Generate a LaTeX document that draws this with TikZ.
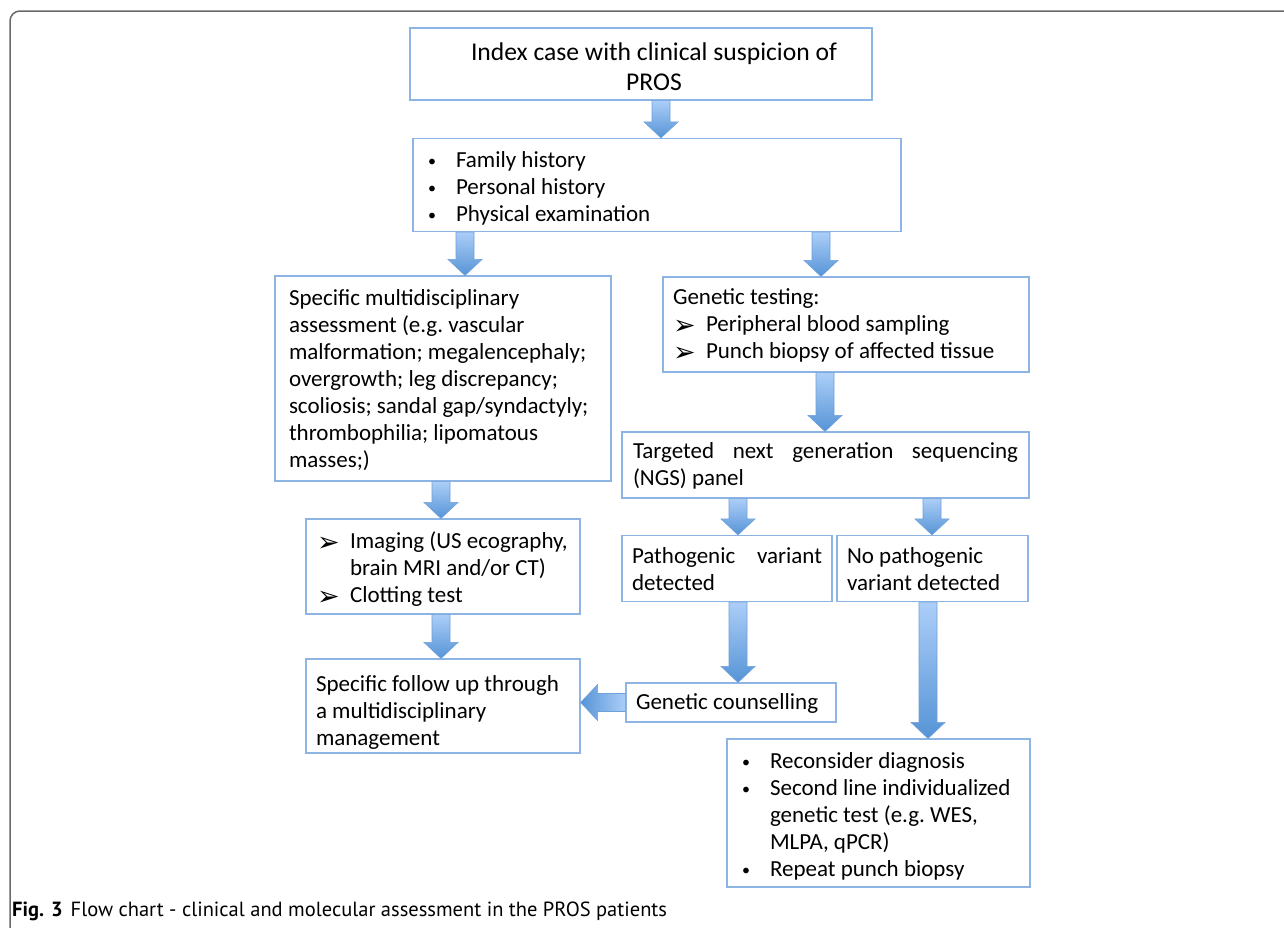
\documentclass[tikz,border=0pt]{standalone}
\usepackage{fontspec}
\setmainfont{Carlito}
\newfontfamily\dejavu{DejaVu Sans}
\newfontfamily\capfont{PT Sans}
\usetikzlibrary{calc}
\definecolor{boxline}{RGB}{141,180,226}
\definecolor{arrtop}{RGB}{172,206,248}
\definecolor{arrbot}{RGB}{86,148,214}
\definecolor{arredge}{RGB}{112,160,218}
\definecolor{framegray}{RGB}{105,105,105}
\newcommand\tri{\makebox[33pt][l]{\dejavu\fontsize{27}{27}\selectfont\raisebox{-2.5pt}{➢}}}
\newcommand\bul{\makebox[28pt][l]{\fontsize{16}{27}\selectfont\raisebox{1pt}{•}}}
\newcommand\pshift[1]{\par\vspace*{-#1}}
\newcommand\varr[3]{\path[arr] let \p1=(#2.south), \p2=(#3.north) in
  (#1pt-9pt,\y1) -- (#1pt+9pt,\y1) -- (#1pt+9pt,\y2+16pt) -- (#1pt+17pt,\y2+16pt)
  -- (#1pt,\y2) -- (#1pt-17pt,\y2+16pt) -- (#1pt-9pt,\y2+16pt) -- cycle;}
\begin{document}
\begin{tikzpicture}[x=1pt,y=-1pt,
  box/.style={draw=boxline, line width=1.2pt, fill=white, rectangle, align=flush left,
    inner ysep=0pt, font=\fontsize{23}{27}\selectfont\frenchspacing},
  tdown/.style={execute at end node={\pshift{#1}}},
  arr/.style={draw=arredge, line width=0.6pt, top color=arrtop, bottom color=arrbot},
  harrow/.style={draw=arredge, line width=0.6pt, left color=arrbot, right color=arrtop}]
\useasboundingbox (0,0) rectangle (1284,927);
\fill[white] (0,0) rectangle (1284,927);
\draw[framegray, line width=1.5pt, rounded corners=10pt] (10,935) -- (10,11) -- (1295,11);

\node[box, tdown=6pt, minimum width=462pt, minimum height=72pt, text width=434pt, inner xsep=14pt,
  align=flush center, font=\fontsize{25.6}{30}\selectfont] (b1) at (641,64)
  {\hspace*{26pt}Index case with clinical suspicion of\\\hspace*{26pt}PROS};
\node[box, tdown=6pt, minimum width=488pt, minimum height=93pt, text width=458pt, inner xsep=15pt] (b2) at (657,185)
  {\bul Family history\\\bul Personal history\\\bul Physical examination};
\node[box, tdown=4pt, minimum width=336pt, minimum height=205pt, text width=308pt, inner xsep=14pt] (b3) at (443,378.5)
  {\mbox{Specific multidisciplinary}\\\mbox{assessment (e.g. vascular}\\\mbox{malformation; megalencephaly;}\\
   \mbox{overgrowth; leg discrepancy;}\\\mbox{scoliosis; sandal gap/syndactyly;}\\\mbox{thrombophilia; lipomatous}\\\mbox{masses;)}};
\node[box, tdown=2pt, minimum width=366pt, minimum height=95pt, text width=346pt, inner xsep=10pt] (b4) at (846,324.5)
  {Genetic testing:\\\tri\mbox{Peripheral blood sampling}\\\tri\mbox{Punch biopsy of affected tissue}};
\node[box, tdown=2pt, minimum width=407pt, minimum height=66pt, text width=385pt, inner xsep=11pt] (b5) at (825.5,465)
  {\makebox[385pt][s]{Targeted next generation sequencing}\\(NGS) panel};
\node[box, tdown=2pt, minimum width=210pt, minimum height=66pt, text width=190pt, inner xsep=10pt] (b6) at (727,568.5)
  {\makebox[190pt][s]{Pathogenic variant}\\detected};
\node[box, tdown=2pt, minimum width=191pt, minimum height=66pt, text width=171pt, inner xsep=10pt] (b7) at (932.5,568.5)
  {No pathogenic\\\mbox{variant detected}};
\node[box, tdown=2pt, minimum width=210pt, minimum height=39pt, text width=190pt, inner xsep=10pt] (b8) at (731,702.5)
  {Genetic counselling};
\node[box, tdown=6pt, minimum width=274pt, minimum height=95pt, text width=252pt, inner xsep=11pt] (b9) at (443,566.5)
  {\tri\mbox{Imaging (US ecography,}\\\hspace*{33pt}\mbox{brain MRI and/or CT)}\\\tri Clotting test};
\node[box, tdown=12pt, minimum width=274pt, minimum height=94pt, text width=254pt, inner xsep=10pt] (b10) at (443,706)
  {\mbox{Specific follow up through}\\a multidisciplinary\\management};
\node[box, tdown=6pt, minimum width=303pt, minimum height=148pt, text width=273pt, inner xsep=15pt] (b11) at (878.5,813)
  {\bul Reconsider diagnosis\\\bul \mbox{Second line individualized}\\\hspace*{28pt}\mbox{genetic test (e.g. WES,}\\
   \hspace*{28pt}MLPA, qPCR)\\\bul Repeat punch biopsy};

\varr{661}{b1}{b2}
\varr{465}{b2}{b3}
\varr{821}{b2}{b4}
\varr{825}{b4}{b5}
\varr{441}{b3}{b9}
\varr{441}{b9}{b10}
\varr{738}{b5}{b6}
\varr{932}{b5}{b7}
\varr{738}{b6}{b8}
\varr{928}{b7}{b11}
\path[harrow] let \p1=(b8.west), \p2=(b10.east) in
  (\x1,\y1-9pt) -- (\x1,\y1+9pt) -- (\x2+17pt,\y1+9pt) -- (\x2+17pt,\y1+18pt)
  -- (\x2,\y1) -- (\x2+17pt,\y1-18pt) -- (\x2+17pt,\y1-9pt) -- cycle;

\node[anchor=base west, inner sep=0pt, font=\capfont\fontsize{20.5}{24}\selectfont] (cap) at (12,916)
  {\textbf{Fig. 3}\hspace{8pt}Flow chart - clinical and molecular assessment in the PROS patients};
\end{tikzpicture}
\end{document}
